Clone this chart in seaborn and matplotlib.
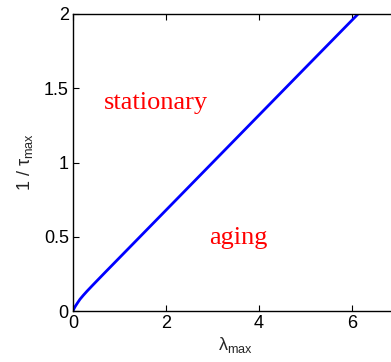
import matplotlib
matplotlib.use("Agg")
import matplotlib.pyplot as plt
import seaborn as sns
import pandas as pd

lambda_max = [0, 0.02, 0.05, 0.1, 0.15, 0.22, 0.3, 0.4, 0.5, 0.7, 1.0, 1.5, 2.2, 3.0, 4.0, 5.0, 6.14]
inv_tau = [0, 0.015, 0.032, 0.056, 0.079, 0.105, 0.133, 0.166, 0.1985, 0.263, 0.359, 0.519, 0.743, 0.999, 1.319, 1.639, 2.003]
xticks = [0, 2, 4, 6]
yticks = [0, 0.5, 1, 1.5, 2]
yticklabels = ["0", "0.5", "1", "1.5", "2"]

df = pd.DataFrame({"x": lambda_max, "y": inv_tau})

sns.set_style("ticks")
plt.rcParams["font.family"] = ["Liberation Sans", "DejaVu Sans"]
plt.rcParams["mathtext.fontset"] = "custom"
plt.rcParams["mathtext.rm"] = "Liberation Sans"
plt.rcParams["mathtext.it"] = "Liberation Sans"

fig = plt.figure(figsize=(3.91, 3.62), dpi=100)
ax = fig.add_axes([73/391, 1 - 311/362, 325.5/391, 297/362])
sns.lineplot(data=df, x="x", y="y", ax=ax, color="#0000ff", linewidth=2.0)

ax.set_xlim(0, 7)
ax.set_ylim(0, 2)
ax.set_xticks(xticks)
ax.set_yticks(yticks)
ax.set_yticklabels(yticklabels)
ax.tick_params(direction="in", length=4, width=0.8, labelsize=13, top=True, right=True, pad=3, colors="black")
for s in ax.spines.values():
    s.set_linewidth(1.0)
    s.set_color("black")

ax.set_xlabel(r"$\lambda_{\rm max}$", fontsize=13, labelpad=2)
ax.set_ylabel(r"$1\ /\ \tau_{\rm max}$", fontsize=13, labelpad=6)

ax.text(1.79, 1.40, "stationary", color="#ff0000", fontsize=19,
        family=["Liberation Serif", "DejaVu Serif"], ha="center", va="center")
ax.text(3.55, 0.49, "aging", color="#ff0000", fontsize=19,
        family=["Liberation Serif", "DejaVu Serif"], ha="center", va="center")

fig.savefig("out.png", dpi=100)
